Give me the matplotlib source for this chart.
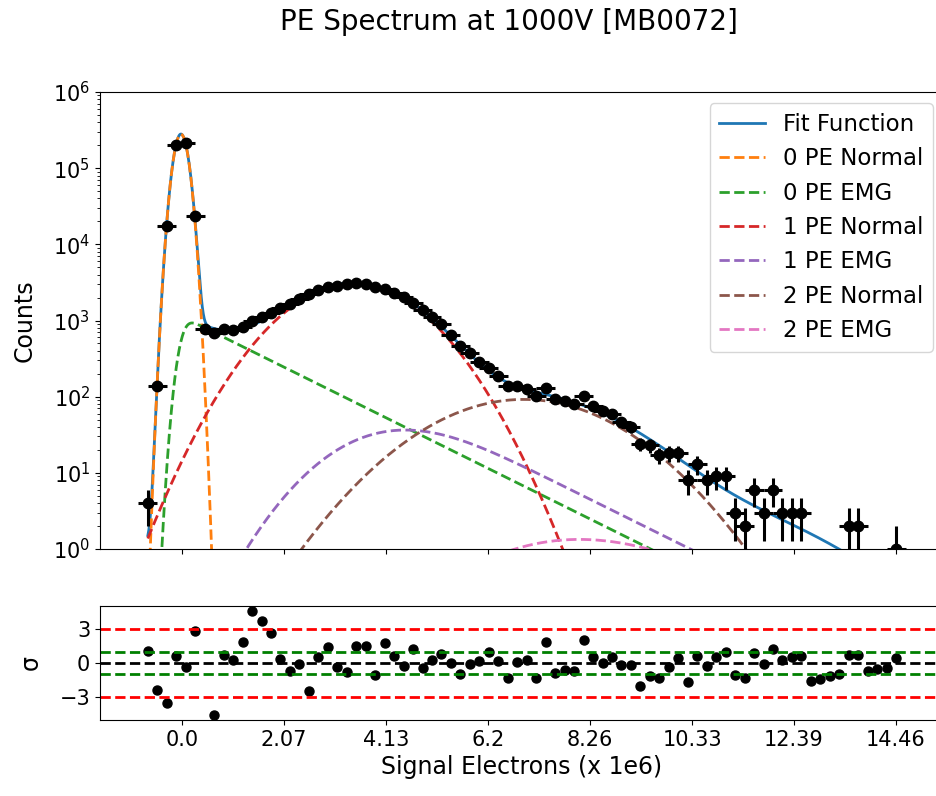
import math
import numpy as np
import matplotlib
matplotlib.use("Agg")
import matplotlib.pyplot as plt

# histogram of the charge spectrum (bin centres in 1e6 electrons)
first_center = -0.690
bin_width = 0.1918
counts = [4, 140, 17600, 199000, 216000, 23800, 770, 681, 770, 753,
          832, 1000, 1125, 1270, 1450, 1650, 1900, 2230, 2520, 2790,
          2880, 2990, 3140, 3020, 2790, 2600, 2280, 2020, 1720, 1376,
          1125, 890, 647, 464, 372, 289, 237, 184, 139, 136,
          127, 102, 129, 93, 88, 80, 102, 76, 64, 59,
          47, 40, 24, 23, 17, 18, 18, 8, 13, 8,
          9, 9, 3, 2, 6, 3, 6, 3, 3, 3,
          0, 0, 0, 0, 2, 2, 0, 0, 0, 1]
# (data - fit) / error (bin 7 is off scale)
residuals = [1.07, -2.32, -3.51, 0.57, -0.38, 2.75, np.nan, -4.55, 0.66, 0.29,
             1.79, 4.49, 3.62, 2.58, 0.35, -0.67, -0.09, -2.41, 0.49, 1.36,
             -0.38, -0.82, 1.50, 1.44, -1.02, 1.74, 0.63, -0.23, 1.24, -0.43,
             0.29, 0.78, 0.00, -0.93, -0.09, 0.14, 0.96, 0.20, -1.30, 0.09,
             0.29, -1.30, 1.79, -0.87, -0.61, -0.67, 2.03, 0.52, -0.03, 0.49,
             -0.21, -0.21, -2.03, -1.16, -1.30, -0.38, 0.43, -1.69, 0.57, -0.30,
             0.52, 0.96, -1.02, -1.30, 0.87, -0.09, 1.24, 0.29, 0.52, 0.57,
             -1.54, -1.37, -1.16, -0.96, 0.66, 0.66, -0.67, -0.50, -0.43, 0.43]

# fit components: Gaussian (normal) and exponentially modified Gaussian terms
pe_names = ["0 PE", "1 PE", "2 PE"]
norm_amp = [2.8e5, 3000, 92]
norm_mu = [-0.02, 3.467, 6.92]
norm_sigma = [0.124, 1.06, 1.495]
emg_area = [1540, 134, 6.2]
emg_mu = [-0.02, 3.67, 7.07]
emg_tau = 1.35
# higher order terms that only enter the total fit
extra_amp = [2.6]
extra_mu = [10.4]
extra_sigma = [1.83]

tick_labels = ["0.0", "2.07", "4.13", "6.2", "8.26", "10.33", "12.39", "14.46"]

erfc = np.vectorize(math.erfc)


def gauss(x, a, mu, s):
    return a * np.exp(-(x - mu) ** 2 / (2 * s ** 2))


def emg(x, area, mu, s, tau):
    lam = 1.0 / tau
    return area * lam / 2 * np.exp(lam / 2 * (2 * mu + lam * s ** 2 - 2 * x)) * \
        erfc((mu + lam * s ** 2 - x) / (np.sqrt(2) * s))


counts = np.array(counts, dtype=float)
xc = first_center + bin_width * np.arange(len(counts))
resid = np.array(residuals)

xf = np.linspace(xc[0], xc[-1], 1500)
comps = []
for i, name in enumerate(pe_names):
    comps.append((name + " Normal", gauss(xf, norm_amp[i], norm_mu[i], norm_sigma[i])))
    comps.append((name + " EMG", emg(xf, emg_area[i], emg_mu[i], norm_sigma[i], emg_tau)))
total = sum(c for _, c in comps)
for a, m, s in zip(extra_amp, extra_mu, extra_sigma):
    total = total + gauss(xf, a, m, s)

plt.rcParams["font.size"] = 17
plt.rcParams["xtick.labelsize"] = 15
plt.rcParams["ytick.labelsize"] = 15
fig = plt.figure(figsize=(9.37, 7.96), dpi=100)
W, H = 937.0, 796.0
ax = fig.add_axes([100 / W, (H - 549) / H, 844 / W, 457 / H])
ax2 = fig.add_axes([100 / W, (H - 720) / H, 844 / W, 114 / H], sharex=ax)

ax.plot(xf, total, color="C0", lw=2, label="Fit Function")
for j, (lab, c) in enumerate(comps):
    ax.plot(xf, c, "--", color="C%d" % (j + 1), lw=2, label=lab)
m = counts > 0
ax.errorbar(xc[m], counts[m], xerr=bin_width, yerr=np.sqrt(counts[m]),
            fmt="o", color="black", ms=7.5, lw=2.2, zorder=5)
ax.set_yscale("log")
ax.set_ylim(1, 1e6)
ax.set_ylabel("Counts", labelpad=12)
ax.legend(loc="upper right", fontsize=16.5, handlelength=2.0)
ax.tick_params(labelbottom=False)

ax2.plot(xc, resid, "o", color="black", ms=6.5)
for yv, col in [(3, "red"), (-3, "red"), (1, "green"), (-1, "green"), (0, "black")]:
    ax2.axhline(yv, color=col, ls="--", lw=2)
ax2.set_ylim(-4.96, 4.96)
ax2.set_yticks([-3, 0, 3])
ax2.set_ylabel("σ", labelpad=12)
ax2.set_xticks(np.linspace(0, float(tick_labels[-1]), len(tick_labels)))
ax2.set_xticklabels(tick_labels)
ax2.set_xlabel("Signal Electrons (x 1e6)")
ax2.set_xlim(xc[0] - bin_width - 0.05 * (xc[-1] - xc[0] + 2 * bin_width),
             xc[-1] + bin_width + 0.05 * (xc[-1] - xc[0] + 2 * bin_width))

fig.text(509 / W, 1 - 22 / H, "PE Spectrum at 1000V [MB0072]", ha="center",
         va="center", fontsize=20)

fig.savefig("out.png", dpi=100, facecolor="white")
